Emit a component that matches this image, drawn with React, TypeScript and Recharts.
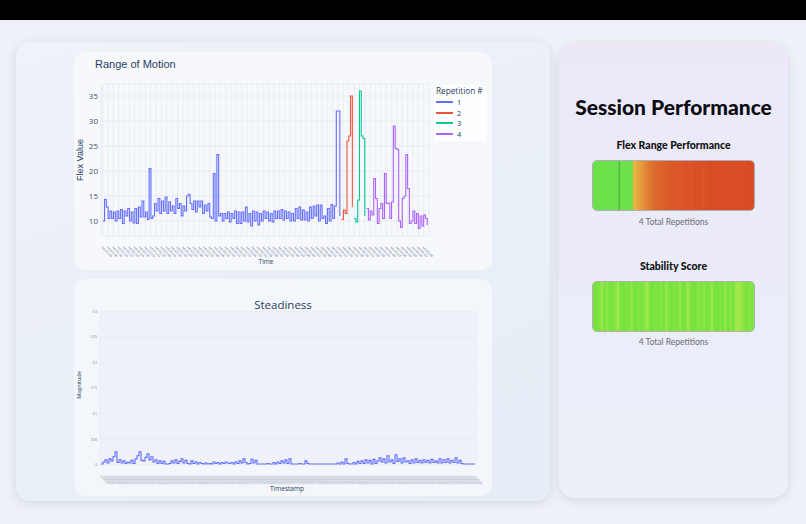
import React from 'react';
import { LineChart, Line, XAxis, YAxis, CartesianGrid, Legend, BarChart, Bar, Cell, ReferenceLine } from 'recharts';

// ---------- Range of Motion data (flex value per sample, by repetition) ----------
const romBlue = [
  10, 14.3, 12.8, 10.5, 12, 10.5, 11.8, 10, 12, 10.5,
  12.3, 9.5, 12, 11, 12.5, 10, 11.8, 9.6, 12.5, 9.5,
  12.8, 10.8, 14, 10.8, 11.8, 10.3, 20.5, 10.5, 11, 13.5,
  12, 14.5, 11.5, 14, 12, 14.8, 11.5, 13.8, 12, 13,
  11.5, 14.5, 12.5, 13.5, 11, 13, 12, 15, 15.3, 13.5,
  12.3, 14, 11.8, 14, 12.8, 14, 11.5, 13.2, 12, 13.5,
  10.8, 10.5, 19.5, 10, 23.3, 11, 11.5, 10, 11.5, 10.5,
  11.8, 9.8, 11.5, 10.5, 12, 9.5, 11.8, 9.5, 11.8, 10,
  12.8, 9.8, 11.5, 9, 12, 10, 11.8, 9.2, 11.5, 10,
  12, 10.5, 11.8, 10, 11.5, 9.8, 12, 10.5, 12, 10.5,
  12.3, 10.2, 12, 10.5, 11.8, 10, 11.5, 10, 12.5, 10.5,
  12.8, 10.2, 12.2, 10.2, 11.8, 10, 12.8, 10.5, 13, 11,
  13.2, 10, 13.2, 10.5, 11, 9.5, 12.5, 10, 13.3, 10.5,
  13, 32, 32, 11,
];
const romRed = [10.3, 12.2, 11.5, 26, 27, 35, 12.8];
const romGreen = [10.5, 9.8, 14.2, 36, 27, 26.5, 11];
const romPurple = [
  12.5, 10.2, 12, 11.2, 18.5, 14.5, 9.5, 12.5, 13.5, 10.5,
  19.5, 13.5, 13.6, 10.5, 13.8, 29, 24.5, 24.3, 10, 8.7,
  14.5, 15, 23.3, 16.5, 9.5, 10, 12, 9.5, 11.5, 8.5,
  11, 9, 11.2, 10.5, 9.2,
];
const repetitionNames = ['1', '2', '3', '4'];
const repetitionColors = ['#636efa', '#ef553b', '#00cc96', '#ab63fa'];
const romYTicks = [10, 15, 20, 25, 30, 35];
const romStartSecond = 5;

// ---------- Steadiness data (magnitude per sample) ----------
const steadyValues = [
  0.002, 0.006, 0.01, 0.004, 0.012, 0.008, 0.016, 0.026, 0.005, 0.01,
  0.004, 0.008, 0.003, 0.006, 0.004, 0.009, 0.003, 0.012, 0.018, 0.026,
  0.009, 0.008, 0.015, 0.022, 0.01, 0.016, 0.006, 0.01, 0.003, 0.008,
  0.003, 0.007, 0.002, 0.002, 0.003, 0.008, 0.004, 0.01, 0.003, 0.007,
  0.012, 0.004, 0.009, 0.003, 0.002, 0.008, 0.003, 0.006, 0.002, 0.005,
  0.003, 0.002, 0.004, 0.002, 0.003, 0.002, 0.006, 0.003, 0.005, 0.002,
  0.005, 0.003, 0.006, 0.004, 0.003, 0.005, 0.002, 0.006, 0.003, 0.008,
  0.004, 0.012, 0.005, 0.002, 0.003, 0.011, 0.004, 0.009, 0.002, 0.002,
  0.002, 0.002, 0.002, 0.003, 0.002, 0.002, 0.005, 0.002, 0.006, 0.003,
  0.008, 0.004, 0.01, 0.003, 0.012, 0.002, 0.002, 0.002, 0.002, 0.003,
  0.002, 0.002, 0.008, 0.003, 0.002, 0.002, 0.002, 0.002, 0.002, 0.002,
  0.002, 0.002, 0.002, 0.002, 0.002, 0.002, 0.002, 0.002, 0.004, 0.002,
  0.006, 0.002, 0.012, 0.003, 0.002, 0.002, 0.005, 0.002, 0.007, 0.003,
  0.008, 0.003, 0.01, 0.004, 0.009, 0.002, 0.011, 0.003, 0.008, 0.014,
  0.006, 0.012, 0.004, 0.018, 0.006, 0.01, 0.003, 0.02, 0.007, 0.012,
  0.004, 0.014, 0.006, 0.008, 0.003, 0.01, 0.004, 0.012, 0.005, 0.009,
  0.004, 0.01, 0.005, 0.009, 0.004, 0.011, 0.005, 0.008, 0.004, 0.012,
  0.004, 0.01, 0.005, 0.012, 0.004, 0.009, 0.005, 0.014, 0.004, 0.009,
  0.003, 0.002, 0.002, 0.002, 0.002, 0.002, 0.002, 0.002,
];
const steadyYTicks = [0, 0.05, 0.1, 0.15, 0.2, 0.25, 0.3];
const steadyStartSecond = 5;

// ---------- Session performance strips ----------
const flexScores = [
  0, 0, 0, 0, 0, 0, 0, 0, 0, 0,
  0.5, 0.58, 0.66, 0.74, 0.8, 0.85, 0.88, 0.9, 0.92, 0.94,
  0.95, 0.94, 0.96, 0.97, 0.96, 0.98, 0.99, 0.97, 0.99, 1,
  0.99, 1, 1, 1, 0.99, 1, 1, 1, 1, 1,
];
const flexRepBoundary = 6;
const stabilityScores = [
  0.2, 0.1, 0.3, 0.7, 0.2, 0.5, 0.1, 0.2, 0.4, 0.8,
  0.2, 0.1, 0.3, 0.2, 0.6, 0.1, 0.2, 0.3, 0.1, 0.5,
  0.8, 0.2, 0.1, 0.3, 0.2, 0.4, 0.1, 0.7, 0.2, 0.1,
  0.3, 0.2, 0.6, 0.1, 0.2, 0.8, 0.3, 0.1, 0.2, 0.4,
  0.2, 0.5, 0.1, 0.3, 0.7, 0.2, 0.1, 0.3, 0.2, 0.6,
  0.1, 0.4, 0.2, 0.8, 0.9, 0.7, 0.3, 0.2, 0.4, 0.3,
];
const totalRepetitions = 4;

// ---------- helpers ----------
const hexToRgb = (h: string) => [1, 3, 5].map((i) => parseInt(h.slice(i, i + 2), 16));
const mix = (a: string, b: string, t: number) => {
  const A = hexToRgb(a);
  const B = hexToRgb(b);
  return 'rgb(' + A.map((v, i) => Math.round(v + (B[i] - v) * t)).join(',') + ')';
};
const flexColor = (s: number) =>
  s <= 0 ? '#6be14a' : s < 0.5 ? mix('#6be14a', '#e8b443', s / 0.5) : mix('#e8b443', '#d94c24', (s - 0.5) / 0.5);
const stabilityColor = (s: number) => mix('#70e23d', '#a9e94c', s);

const pad = (n: number) => (n < 10 ? '0' + n : '' + n);
const timeLabel = (start: number, step: number) => (v: number) => {
  const total = Math.floor(start + v * step);
  return `10:${pad(42 + Math.floor(total / 60))}:${pad(total % 60)}`;
};

const romSeriesList = (() => {
  const lists = [romBlue, romRed, romGreen, romPurple];
  let offset = 0;
  return lists.map((vals) => {
    const d = vals.map((y, i) => ({ x: offset + i, y }));
    offset += vals.length;
    return d;
  });
})();
const romTotal = romBlue.length + romRed.length + romGreen.length + romPurple.length;
const romXTicks = Array.from({ length: Math.floor(romTotal / 3) + 1 }, (_, i) => i * 3).filter((t) => t < romTotal);
const steadyData = steadyValues.map((y, x) => ({ x, y }));
const steadyXTicks = steadyValues.map((_, i) => i);

const SlantTick = (props: any) => {
  const { x, y, payload, fs, fmt, fill, weight } = props;
  return (
    <text x={x} y={y + 2} transform={`rotate(45 ${x} ${y + 2})`} fontSize={fs} fontWeight={weight} fill={fill} textAnchor="start" dy={fs * 0.8} fontFamily="DejaVu Sans">
      {fmt(payload.value)}
    </text>
  );
};

const plotFont = '"Open Sans", "Noto Sans", sans-serif';
const titleFont = '"Liberation Sans", Arial, sans-serif';
const uiFont = 'Lato, "Noto Sans", sans-serif';

const RomLegend = () => (
  <div style={{ background: 'rgba(255,255,255,0.8)', width: 52, height: 56, fontFamily: plotFont, color: '#2a3f5f', fontSize: 8.2, boxSizing: 'border-box', paddingLeft: 2 }}>
    <div style={{ height: 12, lineHeight: '12px', whiteSpace: 'nowrap' }}>Repetition #</div>
    {repetitionNames.map((n, i) => (
      <div key={n} style={{ display: 'flex', alignItems: 'center', height: 10.5 }}>
        <div style={{ width: 17, height: 1.6, background: repetitionColors[i], marginRight: 4 }} />
        <span style={{ fontSize: 7.5 }}>{n}</span>
      </div>
    ))}
  </div>
);

const Strip = ({ scores, colorFn, boundary }: { scores: number[]; colorFn: (s: number) => string; boundary?: number }) => {
  const data = scores.map((s, i) => ({ i, v: 1, s }));
  return (
    <div style={{ width: 163, height: 51, borderRadius: 5, overflow: 'hidden', border: '1px solid rgba(60,60,60,0.35)', boxSizing: 'border-box' }}>
      <BarChart width={161} height={49} data={data} margin={{ top: 0, right: 0, bottom: 0, left: 0 }} barCategoryGap={0} barGap={0}>
        <XAxis dataKey="i" hide />
        <YAxis hide domain={[0, 1]} />
        <Bar dataKey="v" isAnimationActive={false}>
          {data.map((d) => (
            <Cell key={d.i} fill={colorFn(d.s)} stroke={colorFn(d.s)} strokeWidth={0.8} />
          ))}
        </Bar>
        {boundary !== undefined && <ReferenceLine x={boundary} stroke="rgba(40,120,40,0.55)" strokeWidth={1} />}
      </BarChart>
    </div>
  );
};

export default function App() {
  return (
    <div style={{ position: 'fixed', left: 0, top: 0, width: 806, height: 524, background: '#eef1f7', overflow: 'hidden', fontFamily: uiFont }}>
      <div style={{ position: 'absolute', left: 0, top: 0, width: 806, height: 20, background: '#000' }} />

      {/* left big card */}
      <div style={{ position: 'absolute', left: 16, top: 42, width: 534, height: 459, borderRadius: 14, background: 'linear-gradient(160deg, #eef2f9 0%, #e6edf6 100%)', boxShadow: '0 2px 10px rgba(40,60,90,0.14)' }} />

      {/* Range of Motion card */}
      <div style={{ position: 'absolute', left: 74, top: 52, width: 418, height: 218, borderRadius: 12, background: '#f6f8fc' }}>
        <div style={{ position: 'absolute', left: 21, top: 6, fontFamily: titleFont, fontSize: 11, color: '#2a3f5f' }}>Range of Motion</div>
        <div style={{ position: 'absolute', left: 6, top: 108, fontFamily: titleFont, fontSize: 9, color: '#2a3f5f', transform: 'translate(-50%,-50%) rotate(-90deg)', whiteSpace: 'nowrap' }}>Flex Value</div>
        <div style={{ position: 'absolute', left: 192, top: 209, fontFamily: plotFont, fontSize: 6.5, color: '#2a3f5f', transform: 'translate(-50%,-50%)' }}>Time</div>
        <LineChart width={418} height={218} margin={{ top: 31.5, right: 63, bottom: 0, left: 0 }}>
          <CartesianGrid stroke="#e6eaf1" strokeWidth={0.8} />
          <XAxis
            type="number"
            dataKey="x"
            domain={[-1, romTotal]}
            ticks={romXTicks}
            interval={0}
            height={34}
            axisLine={false}
            tickLine={false}
            tick={<SlantTick fs={2.8} weight={700} fill="#98a0ad" fmt={timeLabel(romStartSecond, 1)} />}
          />
          <YAxis
            type="number"
            domain={[7, 37.5]}
            ticks={romYTicks}
            width={27}
            axisLine={false}
            tickLine={false}
            tickSize={0}
            tickMargin={3}
            tick={{ fontSize: 8, fill: '#44546a', fontFamily: plotFont }}
          />
          <Legend
            layout="vertical"
            align="center"
            verticalAlign="middle"
            wrapperStyle={{ left: 360, top: 33, width: 52, height: 56 }}
            content={<RomLegend />}
          />
          {romSeriesList.map((d, i) => (
            <Line
              key={i}
              data={d}
              dataKey="y"
              name={repetitionNames[i]}
              type="stepAfter"
              stroke={repetitionColors[i]}
              strokeWidth={1.1}
              dot={false}
              isAnimationActive={false}
            />
          ))}
        </LineChart>
      </div>

      {/* Steadiness card */}
      <div style={{ position: 'absolute', left: 74, top: 279, width: 418, height: 217, borderRadius: 12, background: '#f3f6fb' }}>
        <div style={{ position: 'absolute', left: 209, top: 25, fontFamily: plotFont, fontSize: 11.5, color: '#2a3f5f', transform: 'translate(-50%,-50%)' }}>Steadiness</div>
        <div style={{ position: 'absolute', left: 5, top: 106, fontFamily: plotFont, fontSize: 5.5, color: '#2a3f5f', transform: 'translate(-50%,-50%) rotate(-90deg)', whiteSpace: 'nowrap' }}>Magnitude</div>
        <div style={{ position: 'absolute', left: 213, top: 209, fontFamily: plotFont, fontSize: 6.5, color: '#2a3f5f', transform: 'translate(-50%,-50%)' }}>Timestamp</div>
        <LineChart width={418} height={217} data={steadyData} margin={{ top: 32.7, right: 16, bottom: 0, left: 0 }}>
          <CartesianGrid stroke="#e6eaf1" strokeWidth={0.6} />
          <XAxis
            type="number"
            dataKey="x"
            domain={[-0.5, steadyValues.length - 0.5]}
            ticks={steadyXTicks}
            interval={0}
            height={31}
            axisLine={false}
            tickLine={false}
            tick={<SlantTick fs={2.6} weight={400} fill="#a3abb8" fmt={timeLabel(steadyStartSecond, 0.5)} />}
          />
          <YAxis
            type="number"
            domain={[0, 0.3]}
            ticks={steadyYTicks}
            width={26}
            axisLine={false}
            tickLine={false}
            tickSize={0}
            tickMargin={3}
            tick={{ fontSize: 3, fill: '#6b7585', fontFamily: plotFont }}
          />
          <Line dataKey="y" type="stepAfter" stroke="#636efa" strokeWidth={1.1} dot={false} isAnimationActive={false} />
        </LineChart>
      </div>

      {/* right card */}
      <div style={{ position: 'absolute', left: 559, top: 44, width: 229, height: 454, borderRadius: 16, background: 'linear-gradient(180deg, #ece8f8 0%, #ebecf8 50%, #ebf0f8 100%)', boxShadow: '0 2px 10px rgba(40,60,90,0.14)' }}>
        <div style={{ position: 'absolute', left: 0, width: 229, top: 50, textAlign: 'center', fontSize: 21, fontWeight: 900, color: '#0b0b12' }}>Session Performance</div>
        <div style={{ position: 'absolute', left: 0, width: 229, top: 95, textAlign: 'center', fontSize: 10.5, fontWeight: 900, color: '#111' }}>Flex Range Performance</div>
        <div style={{ position: 'absolute', left: 33, top: 116 }}>
          <Strip scores={flexScores} colorFn={flexColor} boundary={flexRepBoundary} />
        </div>
        <div style={{ position: 'absolute', left: 0, width: 229, top: 173, textAlign: 'center', fontSize: 8.5, color: '#6b6b75' }}>{totalRepetitions} Total Repetitions</div>
        <div style={{ position: 'absolute', left: 0, width: 229, top: 216, textAlign: 'center', fontSize: 10.5, fontWeight: 900, color: '#111' }}>Stability Score</div>
        <div style={{ position: 'absolute', left: 33, top: 237 }}>
          <Strip scores={stabilityScores} colorFn={stabilityColor} />
        </div>
        <div style={{ position: 'absolute', left: 0, width: 229, top: 293, textAlign: 'center', fontSize: 8.5, color: '#6b6b75' }}>{totalRepetitions} Total Repetitions</div>
      </div>
    </div>
  );
}
